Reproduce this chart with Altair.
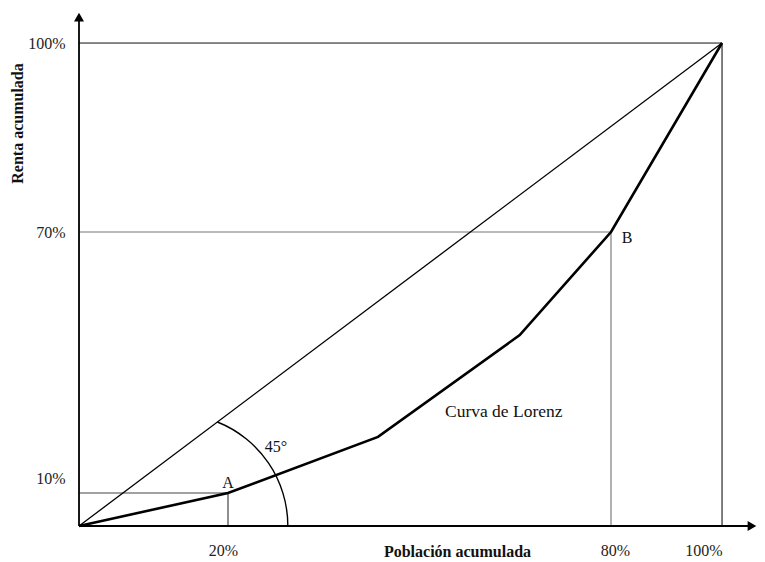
import math
import altair as alt
import pandas as pd

# ---- data ----
x_ticks = [20, 80, 100]
y_ticks = [10, 70, 100]

# Lorenz curve (cumulative population %, cumulative income %)
lorenz_x = [0, 20, 43.5, 65.7, 80, 100]
lorenz_y = [0, 10, 22.9, 46.3, 70, 100]

# Line of perfect equality
diag_x = [0, 100]
diag_y = [0, 100]

# Guide segments
seg_x = [0, 20, 0, 80, 0, 100]
seg_x2 = [20, 20, 80, 80, 100, 100]
seg_y = [10, 0, 70, 0, 100, 0]
seg_y2 = [10, 10, 70, 70, 100, 100]
seg_kind = ["dark", "dark", "light", "light", "box", "box"]

# Axis extents (with arrows)
axis_x_end = 105.4
axis_y_end = 104.1

# Annotations
ann_text = ["A", "B", "45°", "Curva de Lorenz"]
ann_x = [20, 80, 27.5, 63.2]
ann_y = [10, 70, 20.6, 28.6]

arc_center_x = 13.0

# ---- layout ----
W, H = 643, 483
x_range = [0, 149, 532, 643]
y_range = [483, 450, 189, 0]
FONT = "Liberation Serif"

xs = alt.Scale(domain=[0, 20, 80, 100], range=x_range, nice=False, zero=False)
ys = alt.Scale(domain=[0, 10, 70, 100], range=y_range, nice=False, zero=False)

x_axis = alt.Axis(
    values=x_ticks, labelExpr="datum.value + '%'", domain=False, ticks=False,
    grid=False, labelPadding=16, labelFont=FONT, labelFontSize=16,
    labelColor="#222",
    labelOffset={"condition": [{"test": "datum.value == 20", "value": -5},
                               {"test": "datum.value == 80", "value": 4}], "value": 0},
    title="Población acumulada", titleFont=FONT,
    titleFontSize=16, titleFontWeight="bold", titleColor="#111",
    titleX=378, titleY=25, titleAlign="center", titleBaseline="middle",
)
y_axis = alt.Axis(
    values=y_ticks, labelExpr="datum.value + '%'", domain=False, ticks=False,
    grid=False, labelPadding=14, labelFont=FONT, labelFontSize=16,
    labelColor="#222", labelBaseline="middle",
    labelOffset={"condition": {"test": "datum.value == 10", "value": -15}, "value": 0},
    title="Renta acumulada", titleFont=FONT, titleFontSize=16,
    titleFontWeight="bold", titleColor="#111", titleAngle=270,
    titleX=-62, titleY=80, titleAlign="center", titleBaseline="middle",
)


def X(field, **kw):
    return alt.X(field, type="quantitative", scale=xs, axis=x_axis, **kw)


def Y(field, **kw):
    return alt.Y(field, type="quantitative", scale=ys, axis=y_axis, **kw)


segs = pd.DataFrame({"x": seg_x, "x2": seg_x2, "y": seg_y, "y2": seg_y2, "kind": seg_kind})
guides = alt.Chart(segs).mark_rule().encode(
    x=X("x"), x2="x2", y=Y("y"), y2="y2",
    color=alt.Color("kind:N", scale=alt.Scale(domain=["dark", "light", "box"],
                                               range=["#444", "#777", "#222"]), legend=None),
    strokeWidth=alt.StrokeWidth("kind:N", scale=alt.Scale(domain=["dark", "light", "box"],
                                                         range=[1.2, 1.1, 1.6]), legend=None),
)

axes_df = pd.DataFrame({"x": [0, 0], "x2": [axis_x_end, 0], "y": [0, 0], "y2": [0, axis_y_end]})
axes_lines = alt.Chart(axes_df).mark_rule(color="black", strokeWidth=1.8).encode(
    x=X("x"), x2="x2", y=Y("y"), y2="y2"
)

arrows_df = pd.DataFrame({"x": [axis_x_end, 0], "y": [0, axis_y_end],
                          "shape": ["triangle-right", "triangle-up"]})
arrows = alt.Chart(arrows_df).mark_point(filled=True, size=100, color="black", opacity=1).encode(
    x=X("x"), y=Y("y"), shape=alt.Shape("shape:N", scale=None)
)

diag = alt.Chart(pd.DataFrame({"x": diag_x, "y": diag_y})).mark_line(
    color="black", strokeWidth=1.3).encode(x=X("x"), y=Y("y"))

lorenz = alt.Chart(pd.DataFrame({"x": lorenz_x, "y": lorenz_y})).mark_line(
    color="black", strokeWidth=2.6, strokeJoin="miter").encode(x=X("x"), y=Y("y"))

# 45º arc: centre on the x axis, ends on the diagonal
R = 112.0
cx_px = arc_center_x * x_range[1] / 20
k = H / W
a = 1 + k * k
b = -2 * cx_px
c = cx_px ** 2 - R ** 2
xi = (-b + math.sqrt(b * b - 4 * a * c)) / (2 * a)
theta1 = math.atan2(xi - cx_px, k * xi)
arc = alt.Chart(pd.DataFrame({"d": [0]})).mark_arc(
    radius=R + 0.7, radius2=R - 0.7, theta=theta1, theta2=math.pi / 2, color="black"
).encode(x=alt.X(datum=arc_center_x, type="quantitative", scale=xs, axis=x_axis),
         y=alt.Y(datum=0, type="quantitative", scale=ys, axis=y_axis))

ann = pd.DataFrame({"t": ann_text, "x": ann_x, "y": ann_y})
labA = alt.Chart(ann.iloc[[0]]).mark_text(font=FONT, fontSize=16, dy=-10, color="#111").encode(
    x=X("x"), y=Y("y"), text="t")
labB = alt.Chart(ann.iloc[[1]]).mark_text(font=FONT, fontSize=16, dx=16, dy=6, color="#111").encode(
    x=X("x"), y=Y("y"), text="t")
lab45 = alt.Chart(ann.iloc[[2]]).mark_text(font=FONT, fontSize=16, color="#111").encode(
    x=X("x"), y=Y("y"), text="t")
labL = alt.Chart(ann.iloc[[3]]).mark_text(font=FONT, fontSize=17.5, color="#111").encode(
    x=X("x"), y=Y("y"), text="t")

chart = alt.layer(guides, diag, arc, lorenz, axes_lines, arrows, labA, labB, lab45, labL).properties(
    width=W, height=H,
    autosize=alt.AutoSizeParams(type="none"),
    padding={"left": 71, "top": 35, "right": 35, "bottom": 36},
).configure_view(stroke=None).configure(background="white")

chart.save("out.html", embed_options={"renderer": "svg", "actions": False})
